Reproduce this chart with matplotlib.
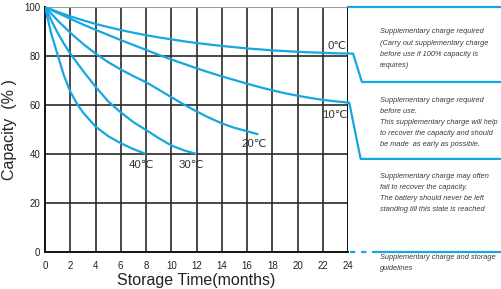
import matplotlib
matplotlib.use("Agg")
import matplotlib.pyplot as plt
from matplotlib import font_manager

# ------------------------------------------------------------
# data (months, capacity %)
# ------------------------------------------------------------
months_0c = [0, 1, 2, 3, 4, 5, 6, 7, 8, 9, 10, 11, 12, 13, 14, 15, 16, 17, 18, 19, 20, 21, 22, 23, 24]
cap_0c = [100, 98.0, 96.2, 94.6, 93.1, 91.8, 90.6, 89.5, 88.5, 87.6, 86.8, 86.0, 85.3,
          84.7, 84.1, 83.6, 83.1, 82.7, 82.3, 82.0, 81.7, 81.5, 81.3, 81.1, 81.0]

months_10c = [0, 1, 2, 3, 4, 5, 6, 7, 8, 9, 10, 11, 12, 13, 14, 15, 16, 17, 18, 19, 20, 21, 22, 23, 24]
cap_10c = [100, 97.6, 95.2, 92.9, 90.7, 88.6, 86.5, 84.5, 82.5, 80.5, 78.6, 76.8, 75.0,
           73.3, 71.7, 70.2, 68.7, 67.3, 66.0, 64.8, 63.8, 62.9, 62.1, 61.5, 61.0]

months_20c = [0, 1, 2, 3, 4, 5, 6, 7, 8, 9, 10, 11, 12, 13, 14, 15, 16, 16.9]
cap_20c = [100, 94.5, 89.5, 85.0, 81.0, 77.5, 74.5, 71.8, 69.3, 66.3, 63.2, 60.2, 57.4,
           54.8, 52.5, 50.7, 49.3, 48.0]

months_30c = [0, 0.5, 1, 1.5, 2, 3, 4, 5, 6, 7, 8, 9, 10, 11, 12]
cap_30c = [100, 94.5, 89.5, 85.0, 81.0, 74.0, 67.5, 61.5, 57.0, 53.0, 49.8, 46.5, 43.5, 41.5, 40.0]

months_40c = [0, 0.5, 1, 1.5, 2, 2.5, 3, 4, 5, 6, 7, 8]
cap_40c = [100, 89.0, 80.5, 72.0, 65.5, 60.8, 57.0, 51.2, 47.3, 44.4, 42.0, 40.0]

series = [
    (months_0c, cap_0c, "0\u2103", (23.9, 84.2), "right"),
    (months_10c, cap_10c, "10\u2103", (24.0, 56.0), "right"),
    (months_20c, cap_20c, "20\u2103", (16.6, 43.9), "center"),
    (months_30c, cap_30c, "30\u2103", (11.6, 35.5), "center"),
    (months_40c, cap_40c, "40\u2103", (7.6, 35.5), "center"),
]

x_ticks = [0, 2, 4, 6, 8, 10, 12, 14, 16, 18, 20, 22, 24]
y_ticks = [0, 20, 40, 60, 80, 100]

note_1 = ["Supplementary charge required",
          "(Carry out supplementary charge",
          "before use if 100% capacity is",
          "requires)"]
note_2 = ["Supplementary charge required",
          "before use.",
          "This supplementary charge will help",
          "to recover the capacity and should",
          "be made  as early as possible."]
note_3 = ["Supplementary charge may often",
          "fail to recover the capacity.",
          "The battery should never be left",
          "standing till this state is reached"]
note_4 = ["Supplementary charge and storage",
          "guidelines"]

# right-hand guide panel (data coords, drawn outside the axes)
panel_right = 36.3
top_rule = ([24, panel_right], [100, 100])
link_0c = ([24, 24.4, 25.1, panel_right], [81.0, 81.0, 69.4, 69.4])
link_10c = ([24, 24.1, 25.0, panel_right], [61.0, 61.0, 38.0, 38.0])
bottom_dash = ([24.15, 25.6], [0, 0])
bottom_rule = ([25.95, panel_right], [0, 0])

notes = [(note_1, 89.8), (note_2, 62.0), (note_3, 31.0), (note_4, -2.4)]

BLUE = "#14a7e0"
GRID = "#2a2a2a"

# ------------------------------------------------------------
# fonts
# ------------------------------------------------------------
names = {f.name for f in font_manager.fontManager.ttflist}
if "Liberation Sans Narrow" in names:
    narrow = ["Liberation Sans Narrow", "DejaVu Sans"]
    tick_size, note_size = 7.9, 6.4
else:
    narrow = ["Liberation Sans", "DejaVu Sans"]
    tick_size, note_size = 7.0, 5.3
regular = ["Liberation Sans", "DejaVu Sans"]

# ------------------------------------------------------------
# plot
# ------------------------------------------------------------
fig = plt.figure(figsize=(5.01, 2.89), dpi=100)
ax = fig.add_axes([45 / 501, 37 / 289, 303 / 501, 245 / 289])
ax.set_xlim(0, 24)
ax.set_ylim(0, 100)

for x in x_ticks[1:]:
    ax.axvline(x, color=GRID, lw=1.2, zorder=1)
for y in y_ticks[1:-1]:
    ax.axhline(y, color=GRID, lw=1.2, zorder=1)
ax.axhline(100, color="#9a9a9a", lw=0.8, zorder=1)

for s in ["top", "right"]:
    ax.spines[s].set_visible(False)
ax.spines["left"].set_linewidth(1.4)
ax.spines["bottom"].set_linewidth(1.4)
ax.spines["left"].set_color("#111111")
ax.spines["bottom"].set_color("#111111")

for mx, cy, label, (lx, ly), ha in series:
    ax.plot(mx, cy, color=BLUE, lw=1.6, zorder=3, solid_capstyle="butt",
            solid_joinstyle="round")
    ax.text(lx, ly, label, ha=ha, va="center", fontsize=8.2, color="#333333",
            family=regular, zorder=4)

ax.set_xticks(x_ticks)
ax.set_yticks(y_ticks)
ax.tick_params(length=0, labelsize=tick_size, colors="#222222")
ax.tick_params(axis="x", pad=6.5)
ax.tick_params(axis="y", pad=3.5)
for lab in ax.get_xticklabels() + ax.get_yticklabels():
    lab.set_family(narrow)

fig.text(196 / 501, 1 - 281 / 289, "Storage Time(months)", ha="center", va="center",
         fontsize=11.5, color="#222222", family=regular)
fig.text(10 / 501, 1 - 130 / 289, "Capacity  (% )", ha="center", va="center",
         rotation=90, fontsize=11.5, color="#222222", family=regular)

# guide panel
ax.plot(*top_rule, color=BLUE, lw=1.6, clip_on=False, zorder=3)
ax.plot(*link_0c, color=BLUE, lw=1.6, clip_on=False, zorder=3)
ax.plot(*link_10c, color=BLUE, lw=1.6, clip_on=False, zorder=3)
ax.plot(*bottom_dash, color=BLUE, lw=1.6, clip_on=False, zorder=3,
        linestyle=(0, (2.4, 2.6)))
ax.plot(*bottom_rule, color=BLUE, lw=1.6, clip_on=False, zorder=3)
ax.plot([24, 24], [0, 100], color="#111111", lw=1.4, zorder=2)

for lines, y0 in notes:
    for i, line in enumerate(lines):
        ax.text(26.55, y0 - i * 4.5, line, ha="left", va="center", fontsize=note_size,
                style="italic", color="#3a3a3a", family=narrow, clip_on=False)

fig.savefig("out.png", dpi=100)
